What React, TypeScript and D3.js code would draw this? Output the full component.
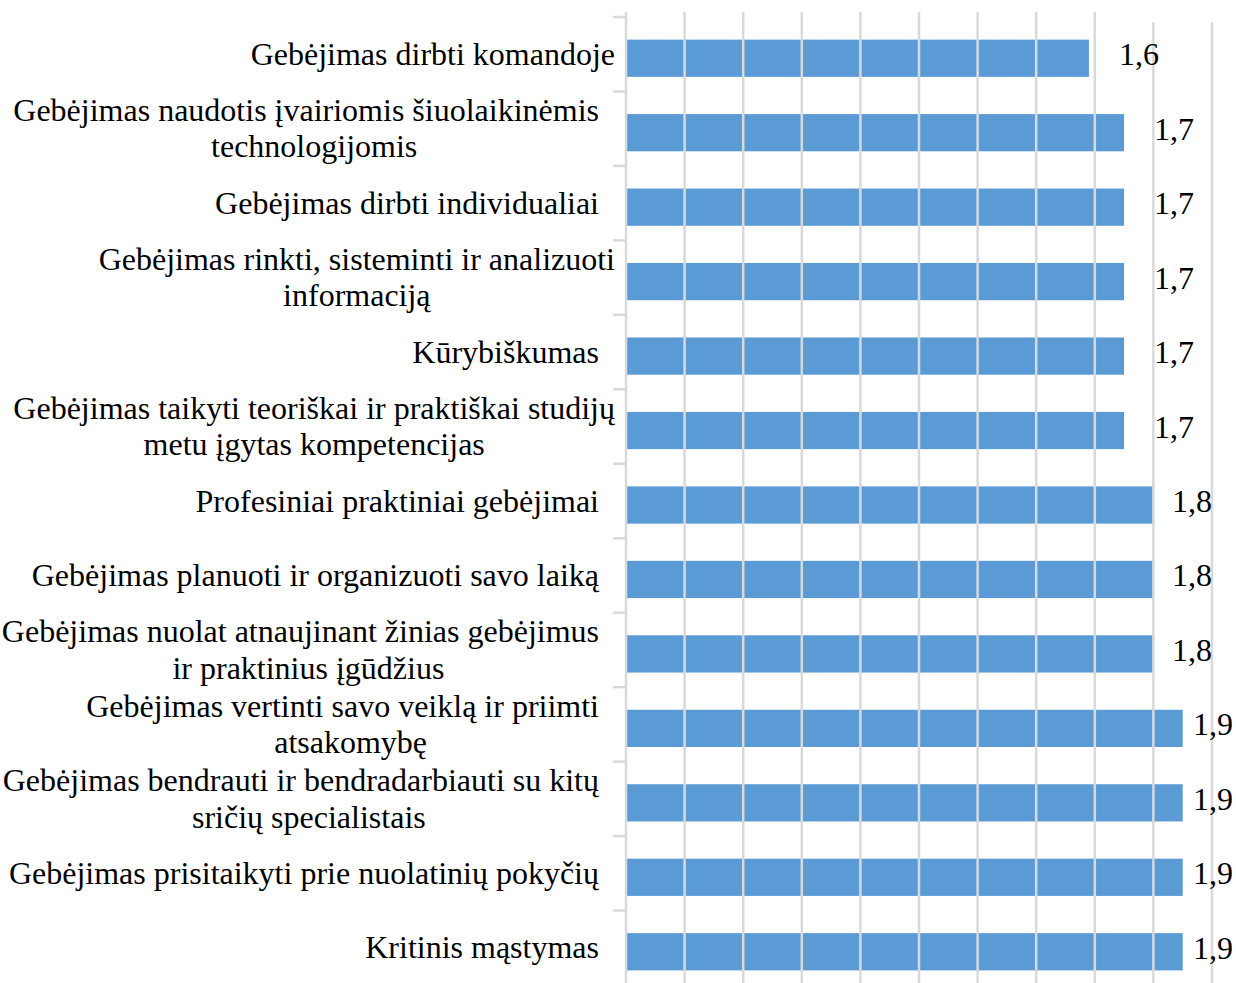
import React, { useEffect, useRef } from "react";
import * as d3 from "d3";

// Category labels (lines as wrapped in the original; trailing spaces kept as in source text)
const categories: string[][] = [
  ["Gebėjimas dirbti komandoje"],
  ["Gebėjimas naudotis įvairiomis šiuolaikinėmis  ", "technologijomis"],
  ["Gebėjimas dirbti individualiai  "],
  ["Gebėjimas rinkti, sisteminti ir analizuoti", "informaciją"],
  ["Kūrybiškumas  "],
  ["Gebėjimas taikyti teoriškai ir praktiškai studijų", "metu įgytas kompetencijas"],
  ["Profesiniai praktiniai gebėjimai  "],
  ["Gebėjimas planuoti ir organizuoti savo laiką  "],
  ["Gebėjimas nuolat atnaujinant žinias gebėjimus  ", "ir praktinius įgūdžius"],
  ["Gebėjimas vertinti savo veiklą ir priimti  ", "atsakomybę"],
  ["Gebėjimas bendrauti ir bendradarbiauti su kitų  ", "sričių specialistais"],
  ["Gebėjimas prisitaikyti prie nuolatinių pokyčių  "],
  ["Kritinis mąstymas  "],
];

const values: number[] = [1.58, 1.7, 1.7, 1.7, 1.7, 1.7, 1.8, 1.8, 1.8, 1.9, 1.9, 1.9, 1.9];

const xDomain: [number, number] = [0, 2];

const W = 1236;
const H = 983;
const FONT = "'Liberation Serif', 'Times New Roman', serif";
const FS = 32;

export default function App() {
  const ref = useRef<SVGSVGElement>(null);

  useEffect(() => {
    const svg = d3.select(ref.current as SVGSVGElement);
    svg.selectAll("*").remove();

    const x = d3.scaleLinear().domain(xDomain).range([626, 1212]);
    const y = d3
      .scaleBand<number>()
      .domain(d3.range(categories.length))
      .range([17, 985])
      .paddingInner(0.5)
      .paddingOuter(0.25);
    const step = y.step();
    const barShift = 4;

    // bars
    svg
      .append("g")
      .selectAll("rect")
      .data(values)
      .join("rect")
      .attr("x", x(0))
      .attr("y", (_d, i) => (y(i) as number) + barShift)
      .attr("width", (d) => x(d) - x(0))
      .attr("height", y.bandwidth())
      .attr("fill", "#5b9bd5");

    // gridlines (drawn over bars, as in the reference)
    const gridTop = 12;
    svg
      .append("g")
      .selectAll("line")
      .data(x.ticks(10))
      .join("line")
      .attr("x1", (d) => x(d))
      .attr("x2", (d) => x(d))
      .attr("y1", (d) => (d > 1.7 ? gridTop + 10 : gridTop))
      .attr("y2", H)
      .attr("stroke", "#d9d9d9")
      .attr("stroke-width", 2.5);

    // category axis ticks
    const r0 = y.range()[0];
    svg
      .append("g")
      .selectAll("line")
      .data(d3.range(categories.length + 1))
      .join("line")
      .attr("x1", x(0) - 13)
      .attr("x2", x(0))
      .attr("y1", (k) => r0 + k * step)
      .attr("y2", (k) => r0 + k * step)
      .attr("stroke", "#d9d9d9")
      .attr("stroke-width", 2.5);

    // category labels
    const lineH = 36.6;
    const rightEdge = 615;
    const lg = svg.append("g").attr("font-family", FONT).attr("font-size", FS).attr("fill", "#000");
    categories.forEach((lines, i) => {
      const cy = (y(i) as number) + y.bandwidth() / 2;
      const texts = lines.map((ln, j) =>
        lg
          .append("text")
          .attr("xml:space", "preserve")
          .style("white-space", "pre")
          .attr("text-anchor", "middle")
          .attr("y", cy + 10.5 + (j - (lines.length - 1) / 2) * lineH)
          .text(ln)
      );
      const maxW = d3.max(texts, (t) => (t.node() as SVGTextElement).getComputedTextLength()) || 0;
      const cx = rightEdge - maxW / 2;
      texts.forEach((t) => t.attr("x", cx));
    });

    // value labels: outside end, pulled inside the plot / chart edge when they would overflow
    const fmt = (v: number) => d3.format(".1f")(v).replace(".", ",");
    const vg = svg.append("g").attr("font-family", FONT).attr("font-size", FS).attr("fill", "#000");
    const plotRight = x(xDomain[1]);
    values.forEach((v, i) => {
      const cy = (y(i) as number) + y.bandwidth() / 2;
      const t = vg.append("text").attr("y", cy + 11).text(fmt(v));
      const w = (t.node() as SVGTextElement).getComputedTextLength();
      let lx = x(v) + 30;
      if (lx + w > plotRight) {
        const inPlot = plotRight - w;
        lx = inPlot - x(v) >= 15 ? inPlot : Math.min(lx, W - 3 - w);
      }
      t.attr("x", lx);
    });
  }, []);

  return (
    <svg
      ref={ref}
      width={W}
      height={H}
      style={{ position: "absolute", left: 0, top: 0, background: "#fff" }}
    />
  );
}
